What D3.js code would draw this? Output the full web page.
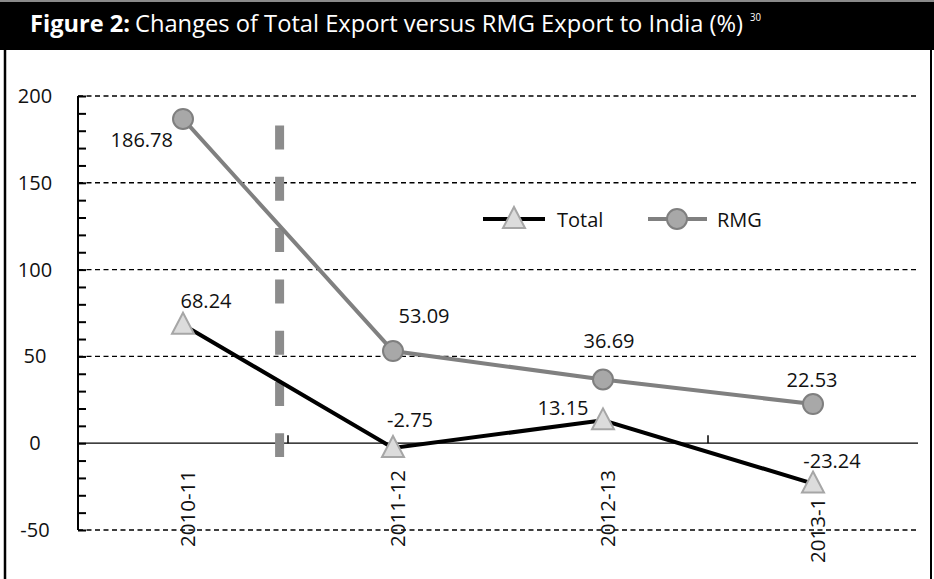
<!DOCTYPE html>
<html>
<head>
<meta charset="utf-8">
<script src="https://cdn.jsdelivr.net/npm/d3@7"></script>
<style>
  html, body { margin: 0; padding: 0; background: #fff; }
  svg { display: block; font-family: "Open Sans", "DejaVu Sans", sans-serif; }
</style>
</head>
<body>
<svg id="chart" width="934" height="579"></svg>
<script>
// ---- data ----
const categories = ["2010-11", "2011-12", "2012-13", "2013-14"];
const tickLabels = ["2010-11", "2011-12", "2012-13", "2013-1"];
const seriesNames = ["Total", "RMG"];
const totalValues = [68.24, -2.75, 13.15, -23.24];
const rmgValues = [186.78, 53.09, 36.69, 22.53];
const yTicks = [-50, 0, 50, 100, 150, 200];
const yMinorStep = 10;
const titleBold = "Figure 2:";
const titleText = "Changes of Total Export versus RMG Export to India (%)";
const titleSup = "30";

// ---- layout ----
const W = 934, H = 579;
const plot = { left: 78, right: 918, top: 96, bottom: 530 };
const svg = d3.select("#chart");

const x = d3.scaleBand().domain(categories).range([plot.left, plot.right]);
const cx = c => x(c) + x.bandwidth() / 2;
const y = d3.scaleLinear().domain([-50, 200]).range([plot.bottom, plot.top]);

// title band
svg.append("rect").attr("x", 0).attr("y", 0).attr("width", W).attr("height", 2).attr("fill", "#8a8a8a");
svg.append("rect").attr("x", 0).attr("y", 2).attr("width", W).attr("height", 48).attr("fill", "#000");
function fitText(txt, x0, x1, opts) {
  return svg.append("text").attr("x", x0).attr("y", opts.y).attr("fill", "#fff")
    .attr("font-size", opts.size).attr("font-weight", opts.weight || "normal")
    .attr("textLength", x1 - x0).attr("lengthAdjust", "spacingAndGlyphs").text(txt);
}
fitText(titleBold, 30, 130, { y: 32, size: 23, weight: "bold" });
fitText(titleText, 135, 743, { y: 32, size: 24 });
fitText(titleSup, 750, 761, { y: 21, size: 10 });

// panel borders
svg.append("line").attr("x1", 5).attr("x2", 5).attr("y1", 50).attr("y2", H).attr("stroke", "#000").attr("stroke-width", 2.5);
svg.append("line").attr("x1", 931).attr("x2", 931).attr("y1", 50).attr("y2", H).attr("stroke", "#000").attr("stroke-width", 2);

// gridlines (dashed) except zero
svg.append("g").selectAll("line").data(yTicks.filter(d => d !== 0)).join("line")
  .attr("x1", plot.left).attr("x2", plot.right)
  .attr("y1", d => y(d)).attr("y2", d => y(d))
  .attr("stroke", "#000").attr("stroke-width", 1.4).attr("stroke-dasharray", "5,3.5");

// zero line
svg.append("line").attr("x1", plot.left).attr("x2", plot.right)
  .attr("y1", y(0)).attr("y2", y(0)).attr("stroke", "#000").attr("stroke-width", 1.3);

// y axis with minor ticks pointing inward
const minorTicks = d3.range(-50, 200 + 0.001, yMinorStep);
const yAxis = d3.axisRight(y).tickValues(minorTicks).tickSize(8).tickFormat("");
const gy = svg.append("g").attr("transform", `translate(${plot.left},0)`).call(yAxis);
gy.select(".domain").attr("stroke", "#000").attr("stroke-width", 2).attr("d", `M0,${y(200)}V${y(-50)}`);
gy.selectAll(".tick line").attr("stroke", "#000").attr("stroke-width", 2);

// y labels
svg.append("g").selectAll("text").data(yTicks).join("text")
  .attr("x", 35).attr("y", d => y(d) + 7)
  .attr("text-anchor", "middle").attr("font-size", 20).attr("fill", "#111")
  .text(d => d);

// x ticks at alternate band boundaries upward from zero line
svg.append("g").selectAll("line").data([categories[1], categories[3]]).join("line")
  .attr("x1", d => x(d)).attr("x2", d => x(d))
  .attr("y1", y(0)).attr("y2", y(0) - 8)
  .attr("stroke", "#000").attr("stroke-width", 1.5);

// category labels (rotated)
const catShift = [0, 0, 0, 16];
svg.append("g").selectAll("text").data(categories).join("text")
  .attr("transform", (d, i) => `translate(${cx(d) + 12},${547 + catShift[i]}) rotate(-90)`)
  .attr("text-anchor", "start").attr("font-size", 20.5).attr("fill", "#111")
  .text((d, i) => tickLabels[i]);

// vertical dashed divider annotation
const dividerPos = 0.46;  // fraction of the way from first to second category
const dividerFrom = 183, dividerTo = -8;
const dx0 = cx(categories[0]) + dividerPos * (cx(categories[1]) - cx(categories[0]));
svg.append("line").attr("x1", dx0).attr("x2", dx0)
  .attr("y1", y(dividerFrom)).attr("y2", y(dividerTo))
  .attr("stroke", "#8c8c8c").attr("stroke-width", 9).attr("stroke-dasharray", "24,27.3");

// lines
const line = d3.line().x((d, i) => cx(categories[i])).y(d => y(d));
svg.append("path").datum(rmgValues).attr("d", line)
  .attr("fill", "none").attr("stroke", "#808080").attr("stroke-width", 4);
svg.append("path").datum(totalValues).attr("d", line)
  .attr("fill", "none").attr("stroke", "#000").attr("stroke-width", 4);

// markers
const triPath = "M0,-12L11,9L-11,9Z";
svg.append("g").selectAll("path").data(totalValues).join("path")
  .attr("d", triPath)
  .attr("transform", (d, i) => `translate(${cx(categories[i])},${y(d)})`)
  .attr("fill", "#dcdcdc").attr("stroke", "#a6a6a6").attr("stroke-width", 2);
svg.append("g").selectAll("circle").data(rmgValues).join("circle")
  .attr("cx", (d, i) => cx(categories[i])).attr("cy", d => y(d)).attr("r", 10)
  .attr("fill", "#a8a8a8").attr("stroke", "#7f7f7f").attr("stroke-width", 2);

// data labels
const rmgLabelPos = [[-10, 28, "end"], [31, -28, "middle"], [6, -32, "middle"], [-1, -17, "middle"]];
const totLabelPos = [[23, -17, "middle"], [17, -21, "middle"], [-40, -5, "middle"], [19, -16, "middle"]];
function labels(vals, pos) {
  svg.append("g").selectAll("text").data(vals).join("text")
    .attr("x", (d, i) => cx(categories[i]) + pos[i][0])
    .attr("y", d => y(d))
    .attr("dy", (d, i) => pos[i][1])
    .attr("text-anchor", (d, i) => pos[i][2])
    .attr("font-size", 20).attr("fill", "#111")
    .text(d => d.toFixed(2));
}
labels(rmgValues, rmgLabelPos);
labels(totalValues, totLabelPos);

// legend
const lg = svg.append("g");
lg.append("line").attr("x1", 483).attr("x2", 545).attr("y1", 219).attr("y2", 219).attr("stroke", "#000").attr("stroke-width", 4);
lg.append("path").attr("d", triPath).attr("transform", "translate(514,219)")
  .attr("fill", "#dcdcdc").attr("stroke", "#a6a6a6").attr("stroke-width", 2);
lg.append("text").attr("x", 557).attr("y", 227).attr("font-size", 20).attr("fill", "#111").text(seriesNames[0]);
lg.append("line").attr("x1", 648).attr("x2", 707).attr("y1", 219).attr("y2", 219).attr("stroke", "#808080").attr("stroke-width", 4);
lg.append("circle").attr("cx", 677).attr("cy", 219).attr("r", 10)
  .attr("fill", "#a8a8a8").attr("stroke", "#7f7f7f").attr("stroke-width", 2);
lg.append("text").attr("x", 717).attr("y", 227).attr("font-size", 20).attr("fill", "#111").text(seriesNames[1]);
</script>
</body>
</html>
